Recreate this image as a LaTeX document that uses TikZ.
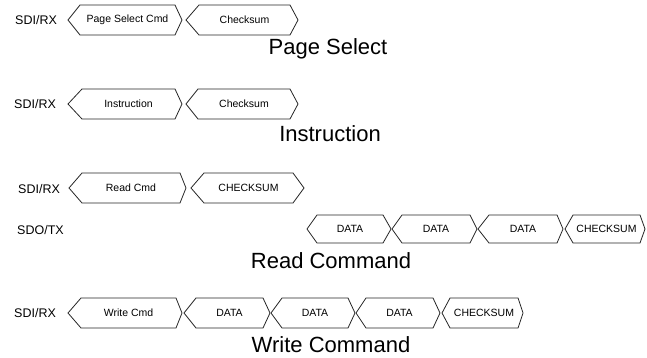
\documentclass[tikz,border=0pt]{standalone}
\usepackage{fontspec}
\setmainfont{Liberation Sans}
\begin{document}
\begin{tikzpicture}[x=1pt,y=-1pt,
  hexline/.style={draw=black!85,line width=0.8pt,line join=miter},
  celltext/.style={inner sep=0pt,font=\fontsize{10.5}{12}\selectfont},
  sigtext/.style={anchor=west,inner sep=0pt,font=\fontsize{12.5}{14}\selectfont},
  titletext/.style={anchor=base,inner sep=0pt,font=\fontsize{22}{26}\selectfont}]
\useasboundingbox[fill=white] (0,0) rectangle (647,358);
% #1 name, #2 left tip, #3 top-left, #4 top-right, #5 right tip, #6 y centre, #7 half height, #8 text
\newcommand{\hexcell}[8]{%
  \draw[hexline] (#2,#6) -- (#3,#6-#7) -- (#4,#6-#7) -- (#5,#6) -- (#4,#6+#7) -- (#3,#6+#7) -- cycle;
  \node[celltext] (#1) at ({(#3+#4)/2},#6) {#8};}
% Page Select
\node[sigtext] (ps-sig) at (15,20) {SDI/RX};
\hexcell{ps-cmd}{68}{80}{175}{182}{20}{15}{Page Select Cmd}
\hexcell{ps-chk}{186}{199}{290}{298}{20}{15}{Checksum}
\node[titletext] (ps-title) at (328,55) {Page Select};
% Instruction
\node[sigtext] (in-sig) at (14,104) {SDI/RX};
\hexcell{in-cmd}{68}{82}{175}{182}{104}{15}{Instruction}
\hexcell{in-chk}{186}{198}{290}{298}{104}{15}{Checksum}
\node[titletext] (in-title) at (330,142) {Instruction};
% Read Command
\node[sigtext] (rd-sig) at (18,189) {SDI/RX};
\hexcell{rd-cmd}{69}{82}{180}{186}{188}{15}{Read Cmd}
\hexcell{rd-chk}{191}{204}{293}{304}{188}{15}{CHECKSUM}
\node[sigtext] (rd-sdo) at (17,230) {SDO/TX};
\hexcell{rd-d1}{307}{317}{383}{391}{229}{14}{DATA}
\hexcell{rd-d2}{392}{402}{470}{477}{229}{14}{DATA}
\hexcell{rd-d3}{478}{489}{557}{563}{229}{14}{DATA}
\hexcell{rd-dchk}{565}{573}{640}{645}{229}{14}{CHECKSUM}
\node[titletext] (rd-title) at (331,268) {Read Command};
% Write Command
\node[sigtext] (wr-sig) at (14,313) {SDI/RX};
\hexcell{wr-cmd}{68}{81}{176}{182}{313}{15}{Write Cmd}
\hexcell{wr-d1}{184}{196}{263}{270}{313}{15}{DATA}
\hexcell{wr-d2}{271}{282}{348}{355}{313}{15}{DATA}
\hexcell{wr-d3}{356}{366}{433}{440}{313}{15}{DATA}
\hexcell{wr-chk}{442}{450}{518}{523}{313}{15}{CHECKSUM}
\node[titletext] (wr-title) at (331,352) {Write Command};
\end{tikzpicture}
\end{document}
